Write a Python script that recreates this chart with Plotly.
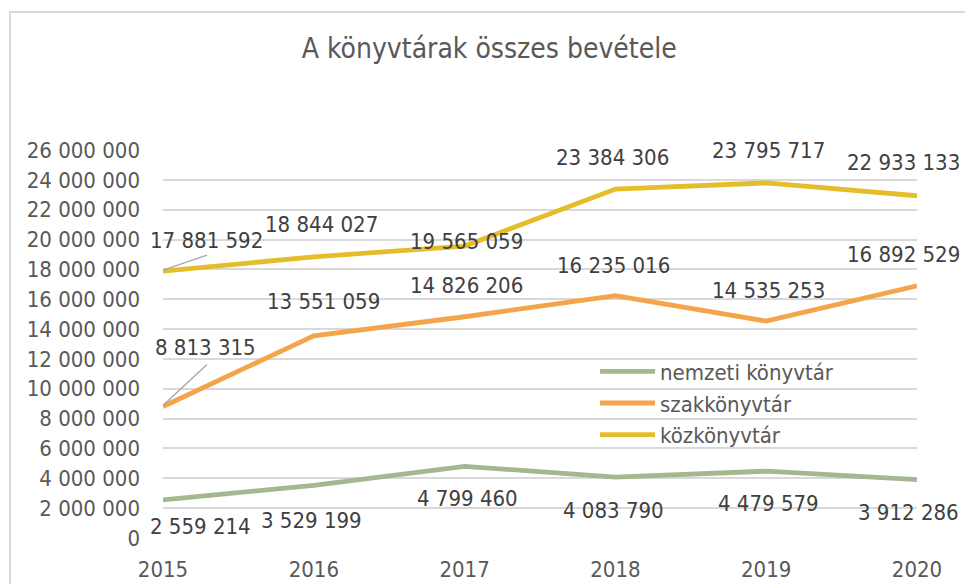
import plotly.graph_objects as go

years = [2015, 2016, 2017, 2018, 2019, 2020]
nemzeti = [2559214, 3529199, 4799460, 4083790, 4479579, 3912286]
szak = [8813315, 13551059, 14826206, 16235016, 14535253, 16892529]
kozk = [17881592, 18844027, 19565059, 23384306, 23795717, 22933133]
series_names = ["nemzeti könyvtár", "szakkönyvtár", "közkönyvtár"]
y_ticks = list(range(0, 26000001, 2000000))

colors = ["#A4B78F", "#F4A44A", "#E5BD2B"]
FONT = "DejaVu Sans Condensed"

# pixel offsets of data labels from their points (dx, dy up)
label_shift = {
    "közkönyvtár": [(43, 31), (8, 32), (2, 5), (-3, 32), (2, 32), (-14, 33)],
    "szakkönyvtár": [(42, 59), (10, 34), (2, 31), (-2, 30), (2, 31), (-14, 31)],
    "nemzeti könyvtár": [(37, -27), (-2, -35), (3, -32), (-2, -33), (2, -32), (-9, -33)],
}

def fmt(v):
    return f"{v:,}".replace(",", " ")

fig = go.Figure()
for name, vals, c in zip(series_names, [nemzeti, szak, kozk], colors):
    fig.add_trace(go.Scatter(x=years, y=vals, name=name, mode="lines",
                             line=dict(color=c, width=4.8), hoverinfo="skip"))

annotations = []
for name, vals in zip(series_names, [nemzeti, szak, kozk]):
    for yr, v, (dx, dy) in zip(years, vals, label_shift[name]):
        annotations.append(dict(x=yr, y=v, xref="x", yref="y", text=fmt(v),
                                showarrow=False, xshift=dx, yshift=dy,
                                font=dict(family=FONT, size=22, color="#404040")))

shapes = [
    # outer chart border
    dict(type="rect", xref="paper", yref="paper", x0=-0.2029, y0=1.3557, x1=1.3, y1=-0.3,
         line=dict(color="#D9D9D9", width=2), fillcolor="rgba(0,0,0,0)", layer="below"),
    # leader lines for 2015 labels
    dict(type="line", xref="x", yref="y", xsizemode="pixel", ysizemode="pixel",
         xanchor=years[0], yanchor=kozk[0], x0=0, y0=1, x1=44, y1=16,
         line=dict(color="#A6A6A6", width=1.3)),
    dict(type="line", xref="x", yref="y", xsizemode="pixel", ysizemode="pixel",
         xanchor=years[0], yanchor=szak[0], x0=0, y0=1, x1=44, y1=42,
         line=dict(color="#A6A6A6", width=1.3)),
]

fig.update_layout(
    width=965, height=584,
    margin=dict(l=163, r=48, t=150, b=46),
    paper_bgcolor="white", plot_bgcolor="white",
    font=dict(family=FONT, size=22, color="#595959"),
    title=dict(text="A könyvtárak összes bevétele", x=0.507, xanchor="center",
               y=0.918, yanchor="middle", font=dict(family=FONT, size=28, color="#595959")),
    xaxis=dict(range=[2015, 2020], tickvals=years, ticktext=[str(y) for y in years],
               showgrid=False, showline=False, zeroline=False, ticks="", automargin=False,
               ticklabelstandoff=16, tickfont=dict(family=FONT, size=22, color="#595959")),
    yaxis=dict(range=[0, 26000000], tickvals=y_ticks, ticktext=[fmt(t) for t in y_ticks],
               showgrid=True, gridcolor="#D9D9D9", gridwidth=1.5, zeroline=False,
               showline=False, ticks="", ticklabelstandoff=22, automargin=False,
               tickfont=dict(family=FONT, size=22, color="#595959")),
    legend=dict(x=0.573, y=0.483, xanchor="left", yanchor="top",
                bgcolor="rgba(0,0,0,0)", font=dict(family=FONT, size=22, color="#595959"),
                itemwidth=55, tracegroupgap=0),
    annotations=annotations,
    shapes=shapes,
    showlegend=True,
)

fig.write_html("out.html", post_script="document.body.style.margin='0';",
               config={"displayModeBar": False})
